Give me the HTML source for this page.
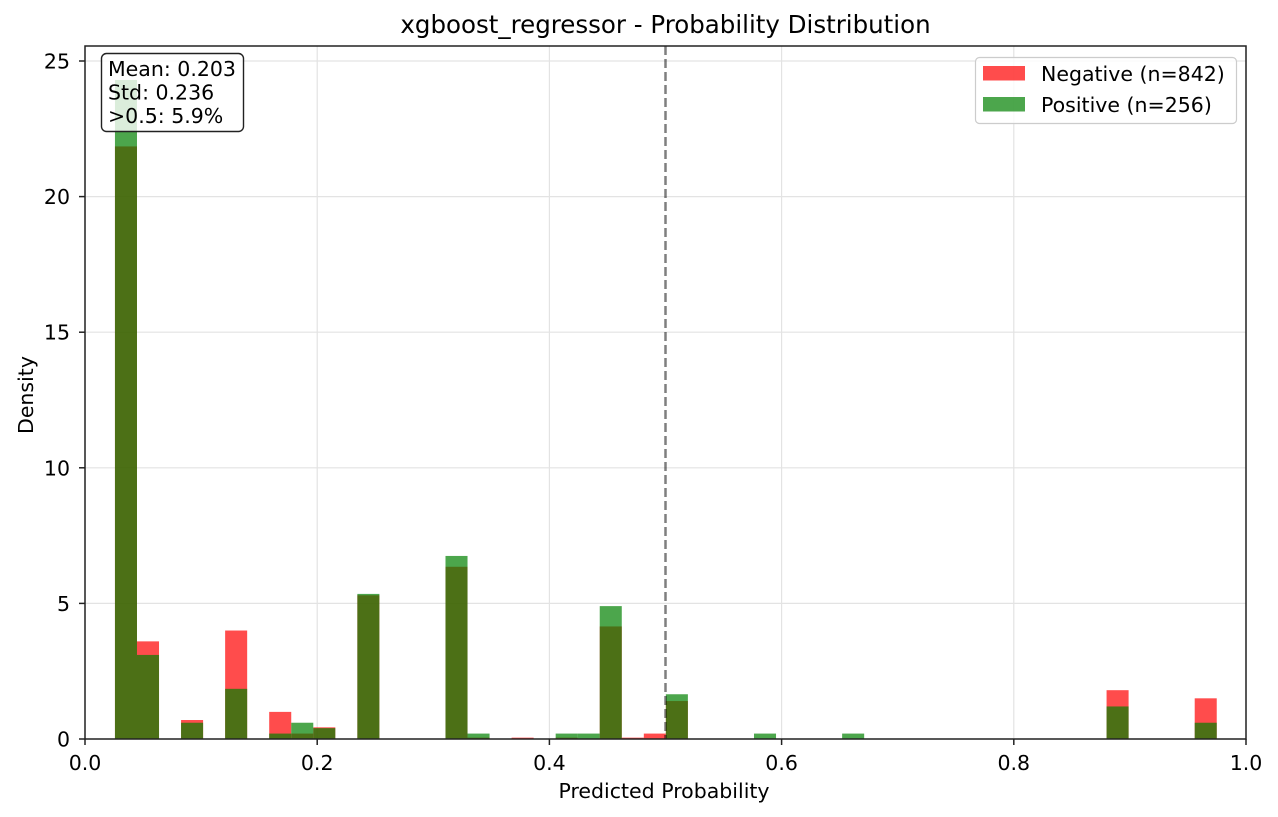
<!DOCTYPE html>
<html><head><meta charset="utf-8"><style>
body{margin:0;background:#fff}
svg{display:block;font-family:"DejaVu Sans","Liberation Sans",sans-serif}
</style></head><body>
<svg id="c" width="1278" height="817" viewBox="0 0 1278 817">
<rect width="1278" height="817" fill="#fff"/>
<g id="grid"></g>
<g id="bars"></g>
<g id="axes"></g>
</svg>
<script>
const binStart = 0.0258;
const binWidth = 0.01898;
const negBins = [0,1,3,5,7,8,9,11,15,16,18,20,22,23,24,25,45,49];
const negValues = [21.85,3.6,0.7,4.0,1.0,0.2,0.43,5.3,6.35,0.05,0.05,0.05,4.15,0.05,0.2,1.4,1.8,1.5];
const posBins = [0,1,3,5,7,8,9,11,15,16,20,21,22,25,29,33,45,49];
const posValues = [24.3,3.1,0.6,1.85,0.2,0.6,0.4,5.35,6.75,0.2,0.2,0.2,4.9,1.65,0.2,0.2,1.2,0.6];
const xTicks = [0,0.2,0.4,0.6,0.8,1.0];
const xTickLabels = ["0.0","0.2","0.4","0.6","0.8","1.0"];
const yTicks = [0,5,10,15,20,25];
const yTickLabels = ["0","5","10","15","20","25"];

const NS="http://www.w3.org/2000/svg";
const L=85,R=1246,T=46,B=739;
const X=v=>L+v*(R-L);
const Y=v=>B-v*(739-61)/25;
function mk(tag,attrs,parent,text){const e=document.createElementNS(NS,tag);for(const k in attrs)e.setAttribute(k,attrs[k]);if(text!==undefined)e.textContent=text;parent.appendChild(e);return e;}
const grid=document.getElementById('grid'),bars=document.getElementById('bars'),axes=document.getElementById('axes');

xTicks.forEach((t,i)=>{
  const g=mk('line',{x1:X(t),x2:X(t),y1:T,y2:B,stroke:'#e3e3e3','stroke-width':1.2},grid);
  
  
  const tk=mk('line',{x1:X(t),x2:X(t),y1:B,y2:B+6,stroke:'#222','stroke-width':1.5},axes);
  
  
  const lb=mk('text',{x:X(t),y:770,'text-anchor':'middle','font-size':20.5,fill:'#000'},axes,xTickLabels[i]);
  
  
});
yTicks.forEach((t,i)=>{
  const g=mk('line',{x1:L,x2:R,y1:Y(t),y2:Y(t),stroke:'#e3e3e3','stroke-width':1.2},grid);
  
  
  const tk=mk('line',{x1:L-6,x2:L,y1:Y(t),y2:Y(t),stroke:'#222','stroke-width':1.5},axes);
  
  
  const lb=mk('text',{x:70,y:Y(t)+7.5,'text-anchor':'end','font-size':20.5,fill:'#000'},axes,yTickLabels[i]);
  
  
});

function drawSeries(bins,vals,color,name){
  bins.forEach((b,i)=>{
    const x0=X(binStart+b*binWidth),x1=X(binStart+(b+1)*binWidth);
    const r=mk('rect',{x:x0,y:Y(vals[i]),width:x1-x0,height:B-Y(vals[i]),fill:color,'fill-opacity':0.7},bars);
    
    
  });
}
drawSeries(negBins,negValues,'#ff0000','negative-bar');
drawSeries(posBins,posValues,'#008000','positive-bar');

const th=mk('line',{x1:X(0.5),x2:X(0.5),y1:T,y2:B,stroke:'#000','stroke-opacity':0.5,'stroke-width':2.5,'stroke-dasharray':'9,4'},axes);



const fr=mk('rect',{x:L,y:T,width:R-L,height:B-T,fill:'none',stroke:'#222','stroke-width':1.5},axes);



const ti=mk('text',{x:(L+R)/2,y:33,'text-anchor':'middle','font-size':24.5,fill:'#000'},axes,'xgboost_regressor - Probability Distribution');


const xt=mk('text',{x:664,y:798,'text-anchor':'middle','font-size':20.5,fill:'#000'},axes,'Predicted Probability');


const yt=mk('text',{x:33,y:395,'text-anchor':'middle','font-size':20.5,fill:'#000',transform:'rotate(-90 33 395)'},axes,'Density');



// stats box
const sb=mk('g',{},axes);


mk('rect',{x:101.5,y:53.5,width:142,height:78,rx:5,fill:'#fff','fill-opacity':0.8,stroke:'#222','stroke-width':1.4},sb);
['Mean: 0.203','Std: 0.236','>0.5: 5.9%'].forEach((s,i)=>{
  const t=mk('text',{x:108,y:76+i*23.5,'font-size':20.5,fill:'#000'},sb,s);
  
  
});

// legend
const lg=mk('g',{},axes);


mk('rect',{x:975.5,y:57.5,width:261,height:66,rx:4,fill:'#fff','fill-opacity':0.8,stroke:'#ccc','stroke-width':1.2},lg);
[['#ff0000','Negative (n=842)'],['#008000','Positive (n=256)']].forEach((d,i)=>{
  const e=mk('g',{},lg);
  
  
  mk('rect',{x:983,y:66+i*31,width:42,height:14.5,fill:d[0],'fill-opacity':0.7},e);
  mk('text',{x:1041,y:81+i*31,'font-size':20.5,fill:'#000'},e,d[1]);
});
</script>
</body></html>
